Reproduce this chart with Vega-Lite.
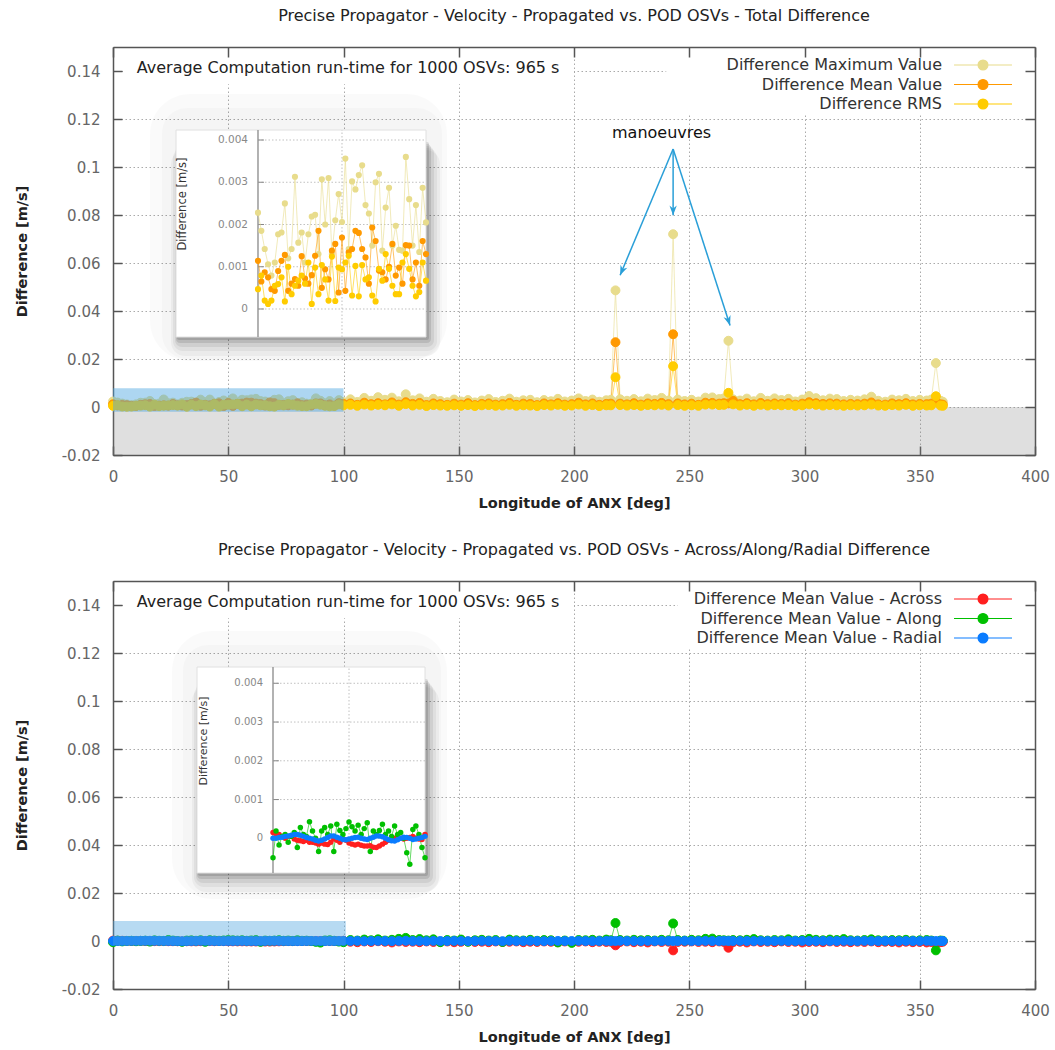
{
"$schema": "https://vega.github.io/schema/vega-lite/v6.json",
"padding": {"left": 14, "top": 8, "right": 5, "bottom": 5},
"config": {
  "font": "DejaVu Sans",
  "view": {"stroke": null},
  "title": {"fontSize": 16, "fontWeight": "normal", "color": "#222", "offset": 22, "anchor": "middle"},
  "axis": {"labelFont": "DejaVu Sans", "titleFont": "DejaVu Sans"},
  "legend": {"labelFont": "DejaVu Sans"}
},
"datasets": {
"top": [
{"x":0,"max":0.00228,"mean":0.00114,"rms":0.00047},
{"x":2,"max":0.00185,"mean":0.00065,"rms":0.00079},
{"x":4,"max":0.00142,"mean":0.00087,"rms":0.0002},
{"x":6,"max":0.00106,"mean":0.00075,"rms":0.00012},
{"x":8,"max":0.00079,"mean":0.00047,"rms":0.0002},
{"x":10,"max":0.0011,"mean":0.00043,"rms":0.00055},
{"x":12,"max":0.00177,"mean":0.0009,"rms":0.00059},
{"x":14,"max":0.00181,"mean":0.00114,"rms":0.00075},
{"x":16,"max":0.0025,"mean":0.00128,"rms":0.00018},
{"x":18,"max":0.0012,"mean":0.00043,"rms":0.001},
{"x":20,"max":0.00142,"mean":0.0006,"rms":0.00035},
{"x":22,"max":0.00313,"mean":0.00071,"rms":0.00055},
{"x":24,"max":0.00157,"mean":0.00055,"rms":0.00067},
{"x":26,"max":0.00181,"mean":0.00125,"rms":0.00079},
{"x":28,"max":0.0011,"mean":0.00072,"rms":0.0006},
{"x":30,"max":0.00177,"mean":0.0006,"rms":0.0011},
{"x":32,"max":0.00219,"mean":0.0008,"rms":0.00012},
{"x":34,"max":0.00223,"mean":0.00126,"rms":0.00098},
{"x":36,"max":0.0013,"mean":0.00185,"rms":0.00035},
{"x":38,"max":0.00307,"mean":0.0005,"rms":0.00104},
{"x":40,"max":0.002,"mean":0.00094,"rms":0.0007},
{"x":42,"max":0.0031,"mean":0.0007,"rms":0.0002},
{"x":44,"max":0.0013,"mean":0.00138,"rms":0.00124},
{"x":46,"max":0.0021,"mean":0.00154,"rms":0.00019},
{"x":48,"max":0.00272,"mean":0.00039,"rms":0.00098},
{"x":50,"max":0.00206,"mean":0.00169,"rms":0.00094},
{"x":52,"max":0.00356,"mean":0.00043,"rms":0.0011},
{"x":54,"max":0.00142,"mean":0.00134,"rms":0.00126},
{"x":56,"max":0.00302,"mean":0.00142,"rms":0.00032},
{"x":58,"max":0.00283,"mean":0.00185,"rms":0.00102},
{"x":60,"max":0.00317,"mean":0.0018,"rms":0.0003},
{"x":62,"max":0.0034,"mean":0.00142,"rms":0.00104},
{"x":64,"max":0.00246,"mean":0.00122,"rms":0.0007},
{"x":66,"max":0.00226,"mean":0.0006,"rms":0.00075},
{"x":68,"max":0.0015,"mean":0.00193,"rms":0.00032},
{"x":70,"max":0.003,"mean":0.00161,"rms":0.00018},
{"x":72,"max":0.0032,"mean":0.00091,"rms":0.00095},
{"x":74,"max":0.00138,"mean":0.00087,"rms":0.00067},
{"x":76,"max":0.0024,"mean":0.0007,"rms":0.0013},
{"x":78,"max":0.00287,"mean":0.001,"rms":0.00095},
{"x":80,"max":0.0015,"mean":0.00154,"rms":0.00055},
{"x":82,"max":0.00197,"mean":0.00079,"rms":0.00035},
{"x":84,"max":0.0014,"mean":0.00098,"rms":0.00035},
{"x":86,"max":0.00138,"mean":0.0006,"rms":0.0011},
{"x":88,"max":0.0036,"mean":0.00151,"rms":0.0013},
{"x":90,"max":0.0026,"mean":0.0015,"rms":0.00095},
{"x":92,"max":0.0015,"mean":0.0007,"rms":0.00055},
{"x":94,"max":0.00246,"mean":0.0011,"rms":0.0003},
{"x":96,"max":0.00135,"mean":0.00055,"rms":0.0004},
{"x":98,"max":0.00287,"mean":0.00161,"rms":0.0011},
{"x":100,"max":0.00205,"mean":0.0013,"rms":0.00067},
{"x":103,"max":0.0032,"mean":0.0015,"rms":0.0009},
{"x":106,"max":0.0021,"mean":0.0009,"rms":0.0005},
{"x":109,"max":0.0038,"mean":0.0018,"rms":0.001},
{"x":112,"max":0.0026,"mean":0.0012,"rms":0.0006},
{"x":115,"max":0.0041,"mean":0.0016,"rms":0.0009},
{"x":118,"max":0.003,"mean":0.0011,"rms":0.0007},
{"x":121,"max":0.0039,"mean":0.0019,"rms":0.0011},
{"x":124,"max":0.0024,"mean":0.001,"rms":0.0005},
{"x":127,"max":0.0053,"mean":0.002,"rms":0.0012},
{"x":130,"max":0.0028,"mean":0.0013,"rms":0.0006},
{"x":133,"max":0.0036,"mean":0.0017,"rms":0.0009},
{"x":136,"max":0.0022,"mean":0.0008,"rms":0.0004},
{"x":139,"max":0.0034,"mean":0.0015,"rms":0.0008},
{"x":142,"max":0.0025,"mean":0.0012,"rms":0.0006},
{"x":145,"max":0.002,"mean":0.0009,"rms":0.0005},
{"x":148,"max":0.0031,"mean":0.0014,"rms":0.0007},
{"x":151,"max":0.0023,"mean":0.001,"rms":0.0005},
{"x":154,"max":0.0029,"mean":0.0016,"rms":0.0008},
{"x":157,"max":0.0019,"mean":0.0008,"rms":0.0004},
{"x":160,"max":0.0027,"mean":0.0013,"rms":0.0007},
{"x":163,"max":0.0033,"mean":0.0015,"rms":0.0008},
{"x":166,"max":0.0021,"mean":0.001,"rms":0.0005},
{"x":169,"max":0.0026,"mean":0.0012,"rms":0.0006},
{"x":172,"max":0.0035,"mean":0.0017,"rms":0.0009},
{"x":175,"max":0.0022,"mean":0.0009,"rms":0.0005},
{"x":178,"max":0.0028,"mean":0.0014,"rms":0.0007},
{"x":181,"max":0.003,"mean":0.0013,"rms":0.0006},
{"x":184,"max":0.002,"mean":0.0008,"rms":0.0004},
{"x":187,"max":0.0029,"mean":0.0015,"rms":0.0008},
{"x":190,"max":0.0024,"mean":0.0011,"rms":0.0006},
{"x":193,"max":0.0034,"mean":0.0016,"rms":0.0009},
{"x":196,"max":0.0023,"mean":0.001,"rms":0.0005},
{"x":199,"max":0.0027,"mean":0.0012,"rms":0.0006},
{"x":202,"max":0.0036,"mean":0.0018,"rms":0.001},
{"x":205,"max":0.0025,"mean":0.0011,"rms":0.0005},
{"x":208,"max":0.0031,"mean":0.0015,"rms":0.0008},
{"x":211,"max":0.0022,"mean":0.0009,"rms":0.0004},
{"x":214,"max":0.0028,"mean":0.0013,"rms":0.0007},
{"x":216,"max":0.003,"mean":0.0014,"rms":0.0007},
{"x":218,"max":0.0486,"mean":0.027,"rms":0.0124},
{"x":220,"max":0.0032,"mean":0.0014,"rms":0.0008},
{"x":223,"max":0.0026,"mean":0.0011,"rms":0.0006},
{"x":226,"max":0.0033,"mean":0.0016,"rms":0.0008},
{"x":229,"max":0.0024,"mean":0.001,"rms":0.0005},
{"x":232,"max":0.0035,"mean":0.0015,"rms":0.0008},
{"x":235,"max":0.0029,"mean":0.0013,"rms":0.0007},
{"x":238,"max":0.0038,"mean":0.0017,"rms":0.0009},
{"x":241,"max":0.0027,"mean":0.0012,"rms":0.0006},
{"x":243,"max":0.072,"mean":0.0303,"rms":0.017},
{"x":245,"max":0.0031,"mean":0.0015,"rms":0.0008},
{"x":248,"max":0.0025,"mean":0.0011,"rms":0.0005},
{"x":251,"max":0.003,"mean":0.0014,"rms":0.0007},
{"x":254,"max":0.0023,"mean":0.0009,"rms":0.0005},
{"x":257,"max":0.0039,"mean":0.0018,"rms":0.001},
{"x":260,"max":0.004,"mean":0.0017,"rms":0.001},
{"x":263,"max":0.0033,"mean":0.0014,"rms":0.0008},
{"x":265,"max":0.0036,"mean":0.0016,"rms":0.0009},
{"x":267,"max":0.0276,"mean":0.0015,"rms":0.0059},
{"x":269,"max":0.0032,"mean":0.0026,"rms":0.0011},
{"x":272,"max":0.0027,"mean":0.0012,"rms":0.0006},
{"x":275,"max":0.0035,"mean":0.0016,"rms":0.0009},
{"x":278,"max":0.0024,"mean":0.0011,"rms":0.0005},
{"x":281,"max":0.0038,"mean":0.0017,"rms":0.0009},
{"x":284,"max":0.0026,"mean":0.0012,"rms":0.0006},
{"x":287,"max":0.0036,"mean":0.0015,"rms":0.0008},
{"x":290,"max":0.0029,"mean":0.0013,"rms":0.0007},
{"x":293,"max":0.0034,"mean":0.0016,"rms":0.0008},
{"x":296,"max":0.0023,"mean":0.001,"rms":0.0005},
{"x":299,"max":0.0031,"mean":0.0014,"rms":0.0007},
{"x":302,"max":0.0046,"mean":0.002,"rms":0.0011},
{"x":305,"max":0.0037,"mean":0.0016,"rms":0.0009},
{"x":308,"max":0.0028,"mean":0.0013,"rms":0.0006},
{"x":311,"max":0.0035,"mean":0.0015,"rms":0.0008},
{"x":314,"max":0.0033,"mean":0.0014,"rms":0.0007},
{"x":317,"max":0.0025,"mean":0.0011,"rms":0.0005},
{"x":320,"max":0.003,"mean":0.0013,"rms":0.0007},
{"x":323,"max":0.0027,"mean":0.0012,"rms":0.0006},
{"x":326,"max":0.0032,"mean":0.0014,"rms":0.0007},
{"x":329,"max":0.0043,"mean":0.0019,"rms":0.001},
{"x":332,"max":0.0026,"mean":0.0011,"rms":0.0006},
{"x":335,"max":0.0022,"mean":0.001,"rms":0.0005},
{"x":338,"max":0.0031,"mean":0.0015,"rms":0.0008},
{"x":341,"max":0.0028,"mean":0.0012,"rms":0.0006},
{"x":344,"max":0.0034,"mean":0.0016,"rms":0.0009},
{"x":347,"max":0.0025,"mean":0.0011,"rms":0.0005},
{"x":350,"max":0.003,"mean":0.0013,"rms":0.0007},
{"x":353,"max":0.0027,"mean":0.0012,"rms":0.0006},
{"x":355,"max":0.0031,"mean":0.0014,"rms":0.0007},
{"x":357,"max":0.0183,"mean":0.0024,"rms":0.0045},
{"x":359,"max":0.0026,"mean":0.0011,"rms":0.0006},
{"x":360,"max":0.0022,"mean":0.001,"rms":0.0005}
],
"bot": [
{"x":0,"across":0.00015,"along":-0.0005,"radial":0},
{"x":2,"across":0.00012,"along":0.00019,"radial":0},
{"x":4,"across":0.0001,"along":-0.00017,"radial":0.00002},
{"x":6,"across":0.00005,"along":0.00005,"radial":0.00003},
{"x":8,"across":0,"along":0.0001,"radial":0.00005},
{"x":10,"across":0.00005,"along":-0.0001,"radial":0.00006},
{"x":12,"across":0.00005,"along":0.00005,"radial":0.00008},
{"x":14,"across":-0.00002,"along":0.00015,"radial":0.0001},
{"x":16,"across":-0.00005,"along":-0.00024,"radial":0.0001},
{"x":18,"across":-0.00006,"along":0.00028,"radial":0.00008},
{"x":20,"across":-0.00008,"along":0.0001,"radial":0.00005},
{"x":22,"across":-0.00005,"along":0.00005,"radial":0.00002},
{"x":24,"across":-0.0001,"along":0.00043,"radial":0},
{"x":26,"across":-0.0001,"along":0.00019,"radial":-0.00002},
{"x":28,"across":-0.00012,"along":0,"radial":-0.00005},
{"x":30,"across":-0.00015,"along":-0.00034,"radial":-0.00007},
{"x":32,"across":-0.00012,"along":0.00019,"radial":-0.00005},
{"x":34,"across":-0.00015,"along":0.00028,"radial":-0.00002},
{"x":36,"across":-0.00016,"along":0.0001,"radial":0.00002},
{"x":38,"across":-0.0001,"along":0.00032,"radial":0.00006},
{"x":40,"across":-0.00002,"along":-0.00034,"radial":0.00006},
{"x":42,"across":-0.00005,"along":0.00036,"radial":0.00003},
{"x":44,"across":-0.0001,"along":0.0002,"radial":0},
{"x":46,"across":-0.00002,"along":0.0001,"radial":-0.00003},
{"x":48,"across":-0.00005,"along":0.00025,"radial":-0.00004},
{"x":50,"across":-0.00012,"along":0.00042,"radial":-0.00002},
{"x":52,"across":-0.00015,"along":0.0003,"radial":0},
{"x":54,"across":-0.00017,"along":0.00019,"radial":0.00002},
{"x":56,"across":-0.00015,"along":0.00034,"radial":0.00003},
{"x":58,"across":-0.00018,"along":0.0001,"radial":0},
{"x":60,"across":-0.0002,"along":0.00025,"radial":-0.00002},
{"x":62,"across":-0.0002,"along":0.0004,"radial":-0.00003},
{"x":64,"across":-0.00019,"along":-0.00034,"radial":0},
{"x":66,"across":-0.00023,"along":0.00019,"radial":0.00003},
{"x":68,"across":-0.00024,"along":0.0001,"radial":0.00006},
{"x":70,"across":-0.0002,"along":0.0002,"radial":0.00006},
{"x":72,"across":-0.00015,"along":0.00036,"radial":0.00004},
{"x":74,"across":-0.0001,"along":0.0001,"radial":0},
{"x":76,"across":-0.00005,"along":0.00019,"radial":-0.00004},
{"x":78,"across":-0.00005,"along":0.00005,"radial":-0.00006},
{"x":80,"across":0,"along":0.00032,"radial":-0.00007},
{"x":82,"across":0.00002,"along":0.0001,"radial":-0.00004},
{"x":84,"across":0,"along":0.00015,"radial":0},
{"x":86,"across":-0.00002,"along":0,"radial":0.00003},
{"x":88,"across":0,"along":-0.00037,"radial":0.00002},
{"x":90,"across":0.00002,"along":-0.00067,"radial":0},
{"x":92,"across":0.00005,"along":0.00023,"radial":-0.00003},
{"x":94,"across":0,"along":0.00032,"radial":-0.00002},
{"x":96,"across":-0.00002,"along":0.0001,"radial":0},
{"x":98,"across":-0.00003,"along":-0.00024,"radial":0.00002},
{"x":100,"across":0.0001,"along":-0.0005,"radial":0.00005},
{"x":103,"across":-0.0003,"along":0.0004,"radial":0},
{"x":106,"across":-0.0005,"along":0.0002,"radial":0.00005},
{"x":109,"across":-0.0002,"along":0.0006,"radial":-0.00005},
{"x":112,"across":-0.0004,"along":0.0003,"radial":0},
{"x":115,"across":-0.0001,"along":0.0007,"radial":0.00005},
{"x":118,"across":-0.0003,"along":0.0002,"radial":0},
{"x":121,"across":-0.0006,"along":0.0005,"radial":-0.00005},
{"x":124,"across":-0.0002,"along":0.0009,"radial":0.00005},
{"x":127,"across":-0.0004,"along":0.0013,"radial":0.0001},
{"x":130,"across":-0.0003,"along":0.0004,"radial":0},
{"x":133,"across":-0.0005,"along":0.0008,"radial":0},
{"x":136,"across":-0.0002,"along":0.0003,"radial":-0.00005},
{"x":139,"across":-0.0004,"along":0.0007,"radial":0.00005},
{"x":142,"across":-0.0003,"along":-0.0005,"radial":0},
{"x":145,"across":-0.0002,"along":0.0004,"radial":0},
{"x":148,"across":-0.0005,"along":0.0002,"radial":0.00005},
{"x":151,"across":-0.0003,"along":0.0006,"radial":0},
{"x":154,"across":-0.0002,"along":-0.0003,"radial":-0.00005},
{"x":157,"across":-0.0004,"along":0.0003,"radial":0},
{"x":160,"across":-0.0003,"along":0.0005,"radial":0.00005},
{"x":163,"across":-0.0005,"along":0.0002,"radial":0},
{"x":166,"across":-0.0002,"along":0.0004,"radial":0},
{"x":169,"across":-0.0004,"along":-0.0004,"radial":-0.00005},
{"x":172,"across":-0.0003,"along":0.0006,"radial":0.00005},
{"x":175,"across":-0.0002,"along":0.0003,"radial":0},
{"x":178,"across":-0.0005,"along":0.0002,"radial":0},
{"x":181,"across":-0.0003,"along":0.0005,"radial":0.00005},
{"x":184,"across":-0.0004,"along":0.0001,"radial":0},
{"x":187,"across":-0.0002,"along":0.0004,"radial":-0.00005},
{"x":190,"across":-0.0003,"along":0.0003,"radial":0},
{"x":193,"across":-0.0005,"along":-0.0006,"radial":0.00005},
{"x":196,"across":-0.0002,"along":0.0002,"radial":0},
{"x":199,"across":-0.0004,"along":-0.0008,"radial":0},
{"x":202,"across":-0.0003,"along":0.0004,"radial":0.00005},
{"x":205,"across":-0.0002,"along":0.0003,"radial":0},
{"x":208,"across":-0.0005,"along":0.0005,"radial":-0.00005},
{"x":211,"across":-0.0003,"along":0.0002,"radial":0},
{"x":214,"across":-0.0004,"along":0.0006,"radial":0.00005},
{"x":216,"across":-0.0003,"along":0.0003,"radial":0},
{"x":218,"across":-0.0018,"along":0.0075,"radial":0},
{"x":220,"across":-0.0004,"along":0.0004,"radial":0.00005},
{"x":223,"across":-0.0002,"along":0.0002,"radial":0},
{"x":226,"across":-0.0005,"along":0.0005,"radial":0},
{"x":229,"across":-0.0003,"along":0.0003,"radial":-0.00005},
{"x":232,"across":-0.0006,"along":0.0004,"radial":0.00005},
{"x":235,"across":-0.0002,"along":0.0002,"radial":0},
{"x":238,"across":-0.0004,"along":0.0005,"radial":0},
{"x":241,"across":-0.0003,"along":0.0003,"radial":0.00005},
{"x":243,"across":-0.0039,"along":0.0073,"radial":0},
{"x":245,"across":-0.0004,"along":0.0004,"radial":0},
{"x":248,"across":-0.0003,"along":0.0002,"radial":0.00005},
{"x":251,"across":-0.0002,"along":0.0005,"radial":0},
{"x":254,"across":-0.0004,"along":0.0003,"radial":0},
{"x":257,"across":-0.0003,"along":0.0009,"radial":0.00005},
{"x":260,"across":-0.0005,"along":0.001,"radial":0},
{"x":263,"across":-0.0002,"along":0.0004,"radial":0},
{"x":265,"across":-0.0004,"along":0.0003,"radial":0.00005},
{"x":267,"across":-0.0028,"along":0.0002,"radial":0},
{"x":269,"across":-0.0005,"along":0.0004,"radial":0},
{"x":272,"across":-0.0003,"along":0.0003,"radial":0.00005},
{"x":275,"across":-0.0006,"along":0.0005,"radial":0},
{"x":278,"across":-0.0002,"along":0.0008,"radial":0},
{"x":281,"across":-0.0004,"along":0.0003,"radial":0.00005},
{"x":284,"across":-0.0003,"along":0.0002,"radial":0},
{"x":287,"across":-0.0005,"along":0.0004,"radial":0},
{"x":290,"across":-0.0002,"along":0.0003,"radial":0.00005},
{"x":293,"across":-0.0004,"along":0.0007,"radial":0},
{"x":296,"across":-0.0003,"along":0.0002,"radial":0},
{"x":299,"across":-0.0006,"along":0.0004,"radial":0.00005},
{"x":302,"across":-0.0004,"along":0.0009,"radial":0},
{"x":305,"across":-0.0003,"along":0.0005,"radial":0},
{"x":308,"across":-0.0005,"along":0.0003,"radial":0.00005},
{"x":311,"across":-0.0002,"along":0.0006,"radial":0},
{"x":314,"across":-0.0004,"along":0.0004,"radial":0},
{"x":317,"across":-0.0003,"along":0.0008,"radial":0.00005},
{"x":320,"across":-0.0005,"along":0.0003,"radial":0},
{"x":323,"across":-0.0003,"along":0.0002,"radial":0},
{"x":326,"across":-0.0004,"along":0.0004,"radial":0.00005},
{"x":329,"across":-0.0002,"along":0.0007,"radial":0},
{"x":332,"across":-0.0005,"along":0.0003,"radial":0},
{"x":335,"across":-0.0003,"along":0.0002,"radial":0.00005},
{"x":338,"across":-0.0004,"along":0.0004,"radial":0},
{"x":341,"across":-0.0006,"along":0.0003,"radial":0},
{"x":344,"across":-0.0003,"along":0.0005,"radial":0.00005},
{"x":347,"across":-0.0005,"along":0.0002,"radial":0},
{"x":350,"across":-0.0004,"along":0.0003,"radial":0},
{"x":353,"across":-0.0006,"along":0.0004,"radial":0.00005},
{"x":355,"across":-0.0004,"along":0.0002,"radial":0},
{"x":357,"across":-0.001,"along":-0.0039,"radial":0},
{"x":359,"across":-0.0005,"along":0.0002,"radial":0},
{"x":360,"across":-0.0003,"along":0.0001,"radial":0}
]
},
"vconcat": [
{
  "width": 922, "height": 408,
  "title": {"text": "Precise Propagator - Velocity - Propagated vs. POD OSVs - Total Difference"},
  "layer": [
    {
      "layer": [
        {"data": {"values": [{}]}, "mark": {"type": "rect", "color": "#808080", "opacity": 0.25},
         "encoding": {"x": {"datum": 0, "type": "quantitative", "axis": null}, "x2": {"datum": 400}, "y": {"datum": -0.02, "type": "quantitative", "axis": null}, "y2": {"datum": 0}}},
        {"data": {"name": "top"}, "transform": [{"fold": ["max", "mean", "rms"], "as": ["k", "v"]}],
         "mark": {"type": "line", "strokeWidth": 1, "strokeOpacity": 0.6},
         "encoding": {
           "x": {"field": "x", "type": "quantitative", "scale": {"domain": [0, 400], "nice": false, "zero": false},
                 "axis": {"orient": "bottom", "values": [0, 50, 100, 150, 200, 250, 300, 350, 400], "title": "Longitude of ANX [deg]", "titleFontSize": 14.5, "titleFontWeight": "bold", "titleColor": "#222", "titlePadding": 12, "labelFontSize": 15, "labelColor": "#666", "labelPadding": 23, "labelFlush": false, "labelOverlap": false, "tickSize": -9, "tickColor": "#555", "tickWidth": 1.5, "domainColor": "#555", "domainWidth": 1.5, "grid": true, "gridColor": "#aaaaaa", "gridDash": [1.5, 2.5], "gridWidth": 1, "zindex": 0}},
           "y": {"field": "v", "type": "quantitative", "scale": {"domain": [-0.02, 0.15], "nice": false, "zero": false},
                 "axis": {"orient": "left", "values": [-0.02, 0, 0.02, 0.04, 0.06, 0.08, 0.1, 0.12, 0.14], "labelExpr": "'' + datum.value", "title": "Difference [m/s]", "titleFontSize": 14.5, "titleFontWeight": "bold", "titleColor": "#222", "titlePadding": 32, "labelFontSize": 15, "labelColor": "#666", "labelPadding": 22, "tickSize": -9, "tickColor": "#555", "tickWidth": 1.5, "domainColor": "#555", "domainWidth": 1.5, "grid": true, "gridColor": "#aaaaaa", "gridDash": [1.5, 2.5], "gridWidth": 1, "zindex": 0}},
           "stroke": {"field": "k", "type": "nominal", "scale": {"domain": ["max", "mean", "rms"], "range": ["#e8dc8c", "#ff9900", "#ffcc00"]}}
         }},
        {"data": {"name": "top"}, "transform": [{"fold": ["max", "mean", "rms"], "as": ["k", "v"]}],
         "mark": {"type": "point", "filled": true, "size": 80, "opacity": 1, "strokeWidth": 1},
         "encoding": {
           "x": {"field": "x", "type": "quantitative", "axis": null},
           "y": {"field": "v", "type": "quantitative", "axis": null},
           "fill": {"field": "k", "type": "nominal", "scale": {"domain": ["max", "mean", "rms"], "range": ["#e8dc8c", "#ff9900", "#ffcc00"]},
                    "legend": {"orient": "none", "legendX": 862, "legendY": 10, "title": null, "symbolType": "M-4.83,0H4.83M0.82,0A0.82,0.82,0,1,1,-0.82,0A0.82,0.82,0,1,1,0.82,0Z", "symbolSize": 144, "symbolStrokeWidth": 1.2, "symbolOpacity": 1, "labelAlign": "right", "labelOffset": -49, "labelFontSize": 16, "labelColor": "#333", "rowPadding": 3.5, "labelLimit": 400, "labelExpr": "datum.label == 'max' ? 'Difference Maximum Value' : datum.label == 'mean' ? 'Difference Mean Value' : 'Difference RMS'"}},
           "stroke": {"field": "k", "type": "nominal",
                    "legend": {"orient": "none", "legendX": 862, "legendY": 10, "title": null, "symbolType": "M-4.83,0H4.83M0.82,0A0.82,0.82,0,1,1,-0.82,0A0.82,0.82,0,1,1,0.82,0Z", "symbolSize": 144, "symbolStrokeWidth": 1.2, "symbolOpacity": 1, "labelAlign": "right", "labelOffset": -49, "labelFontSize": 16, "labelColor": "#333", "rowPadding": 3.5, "labelLimit": 400, "labelExpr": "datum.label == 'max' ? 'Difference Maximum Value' : datum.label == 'mean' ? 'Difference Mean Value' : 'Difference RMS'"}},
           "order": {"field": "k", "type": "ordinal"}
         }},
        {"data": {"values": [{}]}, "mark": {"type": "rect", "color": "#4aa3df", "opacity": 0.45},
         "encoding": {"x": {"datum": 0, "type": "quantitative", "axis": null}, "x2": {"datum": 100}, "y": {"datum": -0.002, "type": "quantitative", "axis": null}, "y2": {"datum": 0.0078}}},
        {"data": {"values": [{}]}, "mark": {"type": "rect", "color": "#ffffff"},
         "encoding": {"x": {"datum": 4.5, "type": "quantitative", "axis": null}, "x2": {"datum": 200}, "y": {"datum": 0.1345, "type": "quantitative", "axis": null}, "y2": {"datum": 0.15}}},
        {"data": {"values": [{}]}, "mark": {"type": "rect", "color": "#ffffff"},
         "encoding": {"x": {"datum": 240, "type": "quantitative", "axis": null}, "x2": {"datum": 400}, "y": {"datum": 0.1225, "type": "quantitative", "axis": null}, "y2": {"datum": 0.15}}},
        {"data": {"values": [{}]}, "mark": {"type": "text", "text": "Average Computation run-time for 1000 OSVs: 965 s", "align": "left", "baseline": "middle", "fontSize": 16, "color": "#222"},
         "encoding": {"x": {"datum": 10.3, "type": "quantitative", "axis": null}, "y": {"datum": 0.1411, "type": "quantitative", "axis": null}}},
        {"data": {"values": [{}]}, "mark": {"type": "text", "text": "manoeuvres", "align": "center", "baseline": "middle", "fontSize": 16, "color": "#111"},
         "encoding": {"x": {"datum": 238, "type": "quantitative", "axis": null}, "y": {"datum": 0.114, "type": "quantitative", "axis": null}}},
        {"data": {"values": [{"x1": 243, "y1": 0.1075, "x2": 220, "y2": 0.0549}, {"x1": 243, "y1": 0.1075, "x2": 243, "y2": 0.0799}, {"x1": 243, "y1": 0.1075, "x2": 267.7, "y2": 0.034}]},
         "mark": {"type": "rule", "color": "#2a9fd8", "strokeWidth": 1.5},
         "encoding": {
           "x": {"field": "x1", "type": "quantitative", "axis": {"orient": "top", "values": [0, 50, 100, 150, 200, 250, 300, 350, 400], "labels": false, "title": null, "tickSize": -10, "tickColor": "#555", "tickWidth": 1.5, "domainColor": "#555", "domainWidth": 1.5, "grid": false, "zindex": 1}},
           "y": {"field": "y1", "type": "quantitative", "axis": {"orient": "right", "values": [-0.02, 0, 0.02, 0.04, 0.06, 0.08, 0.1, 0.12, 0.14], "labels": false, "title": null, "tickSize": -10, "tickColor": "#555", "tickWidth": 1.5, "domainColor": "#555", "domainWidth": 1.5, "grid": false, "zindex": 1}},
           "x2": {"field": "x2"}, "y2": {"field": "y2"}
         }},
        {"data": {"values": [{}]}, "mark": {"type": "point", "shape": "M0,0L-0.6,-1.6L0,-1.1L0.6,-1.6Z", "filled": true, "color": "#2a9fd8", "opacity": 1, "size": 150, "angle": 23},
         "encoding": {"x": {"datum": 220, "type": "quantitative", "axis": null}, "y": {"datum": 0.0549, "type": "quantitative", "axis": null}}},
        {"data": {"values": [{}]}, "mark": {"type": "point", "shape": "M0,0L-0.6,-1.6L0,-1.1L0.6,-1.6Z", "filled": true, "color": "#2a9fd8", "opacity": 1, "size": 150, "angle": 0},
         "encoding": {"x": {"datum": 243, "type": "quantitative", "axis": null}, "y": {"datum": 0.0799, "type": "quantitative", "axis": null}}},
        {"data": {"values": [{}]}, "mark": {"type": "point", "shape": "M0,0L-0.6,-1.6L0,-1.1L0.6,-1.6Z", "filled": true, "color": "#2a9fd8", "opacity": 1, "size": 150, "angle": -18},
         "encoding": {"x": {"datum": 267.7, "type": "quantitative", "axis": null}, "y": {"datum": 0.034, "type": "quantitative", "axis": null}}}
      ],
      "resolve": {"axis": {"x": "independent", "y": "independent"}}
    },
    {
      "layer": [
        {"data": {"values": [{}]}, "mark": {"type": "rect", "color": "#000", "opacity": 0.018, "cornerRadius": 40, "xOffset": -26, "x2Offset": 21, "yOffset": 24, "y2Offset": -36},
         "encoding": {"x": {"datum": -48.8, "type": "quantitative", "scale": {"domain": [-48.8, 100], "range": [63, 313], "nice": false, "zero": false}, "axis": null}, "x2": {"datum": 100},
                      "y": {"datum": -0.000663, "type": "quantitative", "scale": {"domain": [-0.000663, 0.004237], "range": [290, 83], "nice": false, "zero": false}, "axis": null}, "y2": {"datum": 0.004237}}},
        {"data": {"values": [{}]}, "mark": {"type": "rect", "color": "#000", "opacity": 0.018, "cornerRadius": 25, "xOffset": -14, "x2Offset": 16, "yOffset": 22, "y2Offset": -22},
         "encoding": {"x": {"datum": -48.8, "type": "quantitative", "axis": null}, "x2": {"datum": 100}, "y": {"datum": -0.000663, "type": "quantitative", "axis": null}, "y2": {"datum": 0.004237}}},
        {"data": {"values": [{}]}, "mark": {"type": "rect", "color": "#000", "opacity": 0.04, "cornerRadius": 14, "xOffset": -5, "x2Offset": 14, "yOffset": 19, "y2Offset": 20},
         "encoding": {"x": {"datum": -48.8, "type": "quantitative", "axis": null}, "x2": {"datum": 100}, "y": {"datum": -0.000663, "type": "quantitative", "axis": null}, "y2": {"datum": 0.004237}}},
        {"data": {"values": [{}]}, "mark": {"type": "rect", "color": "#000", "opacity": 0.05, "cornerRadius": 10, "xOffset": -3, "x2Offset": 11, "yOffset": 14, "y2Offset": 18},
         "encoding": {"x": {"datum": -48.8, "type": "quantitative", "axis": null}, "x2": {"datum": 100}, "y": {"datum": -0.000663, "type": "quantitative", "axis": null}, "y2": {"datum": 0.004237}}},
        {"data": {"values": [{}]}, "mark": {"type": "rect", "color": "#000", "opacity": 0.07, "cornerRadius": 7, "xOffset": -1, "x2Offset": 8, "yOffset": 10, "y2Offset": 16},
         "encoding": {"x": {"datum": -48.8, "type": "quantitative", "axis": null}, "x2": {"datum": 100}, "y": {"datum": -0.000663, "type": "quantitative", "axis": null}, "y2": {"datum": 0.004237}}},
        {"data": {"values": [{}]}, "mark": {"type": "rect", "color": "#000", "opacity": 0.1, "cornerRadius": 4, "xOffset": 0, "x2Offset": 5, "yOffset": 6, "y2Offset": 14},
         "encoding": {"x": {"datum": -48.8, "type": "quantitative", "axis": null}, "x2": {"datum": 100}, "y": {"datum": -0.000663, "type": "quantitative", "axis": null}, "y2": {"datum": 0.004237}}},
        {"data": {"values": [{}]}, "mark": {"type": "rect", "color": "#000", "opacity": 0.12, "cornerRadius": 2, "xOffset": 1, "x2Offset": 3, "yOffset": 3, "y2Offset": 12},
         "encoding": {"x": {"datum": -48.8, "type": "quantitative", "axis": null}, "x2": {"datum": 100}, "y": {"datum": -0.000663, "type": "quantitative", "axis": null}, "y2": {"datum": 0.004237}}},
        {"data": {"values": [{}]}, "mark": {"type": "rect", "color": "#ffffff", "stroke": "#e0e0e0", "strokeWidth": 1},
         "encoding": {"x": {"datum": -48.8, "type": "quantitative", "axis": null}, "x2": {"datum": 100}, "y": {"datum": -0.000663, "type": "quantitative", "axis": null}, "y2": {"datum": 0.004237}}},
        {"data": {"values": [{"g": 0}, {"g": 0.001}, {"g": 0.002}, {"g": 0.003}, {"g": 0.004}]},
         "mark": {"type": "rule", "color": "#c0c0c0", "strokeDash": [1.5, 2], "strokeWidth": 1},
         "encoding": {"x": {"datum": 0, "type": "quantitative", "axis": null}, "x2": {"datum": 100}, "y": {"field": "g", "type": "quantitative", "axis": null}}},
        {"data": {"values": [{}]}, "mark": {"type": "rule", "color": "#c0c0c0", "strokeDash": [1.5, 2], "strokeWidth": 1},
         "encoding": {"x": {"datum": 50, "type": "quantitative", "axis": null}, "y": {"datum": -0.000663, "type": "quantitative", "axis": null}, "y2": {"datum": 0.004237}}},
        {"data": {"values": [{"g": 0}, {"g": 0.001}, {"g": 0.002}, {"g": 0.003}, {"g": 0.004}]},
         "mark": {"type": "rule", "color": "#888888", "strokeWidth": 1},
         "encoding": {"x": {"datum": 0, "type": "quantitative", "axis": null}, "x2": {"datum": 3.6}, "y": {"field": "g", "type": "quantitative", "axis": null}}},
        {"data": {"values": [{"g": 0}, {"g": 0.001}, {"g": 0.002}, {"g": 0.003}, {"g": 0.004}]},
         "mark": {"type": "text", "align": "right", "baseline": "middle", "dx": -10, "fontSize": 10.5, "color": "#888888"},
         "encoding": {"x": {"datum": 0, "type": "quantitative", "axis": null}, "y": {"field": "g", "type": "quantitative", "axis": null}, "text": {"field": "g", "type": "quantitative", "format": "~g"}}},
        {"data": {"values": [{}]}, "mark": {"type": "text", "text": "Difference [m/s]", "angle": 270, "align": "center", "baseline": "middle", "fontSize": 11.5, "color": "#333"},
         "encoding": {"x": {"datum": -44.6, "type": "quantitative", "axis": null}, "y": {"datum": 0.002485, "type": "quantitative", "axis": null}}},
        {"data": {"values": [{}]}, "mark": {"type": "rule", "color": "#999999", "strokeWidth": 1.5},
         "encoding": {"x": {"datum": 0, "type": "quantitative", "axis": null}, "y": {"datum": -0.000663, "type": "quantitative", "axis": null}, "y2": {"datum": 0.004237}}},
        {"data": {"name": "top"}, "transform": [{"filter": {"field": "x", "lte": 100}}, {"fold": ["max", "mean", "rms"], "as": ["k", "v"]}],
         "mark": {"type": "line", "strokeWidth": 1, "strokeOpacity": 0.6},
         "encoding": {"x": {"field": "x", "type": "quantitative", "axis": null}, "y": {"field": "v", "type": "quantitative", "axis": null},
                      "stroke": {"field": "k", "type": "nominal"}}},
        {"data": {"name": "top"}, "transform": [{"filter": {"field": "x", "lte": 100}}, {"fold": ["max", "mean", "rms"], "as": ["k", "v"]}],
         "mark": {"type": "point", "filled": true, "size": 38, "opacity": 1},
         "encoding": {"x": {"field": "x", "type": "quantitative", "axis": null},
                      "y": {"field": "v", "type": "quantitative", "axis": null},
                      "fill": {"field": "k", "type": "nominal"},
                      "order": {"field": "k", "type": "ordinal"}}}
      ]
    }
  ],
  "resolve": {"scale": {"x": "independent", "y": "independent"}}
},
{
  "width": 922, "height": 408,
  "title": {"text": "Precise Propagator - Velocity - Propagated vs. POD OSVs - Across/Along/Radial Difference"},
  "layer": [
    {
      "layer": [
        {"data": {"name": "bot"}, "transform": [{"fold": ["across", "along", "radial"], "as": ["k", "v"]}],
         "mark": {"type": "line", "strokeWidth": 1, "strokeOpacity": 0.6},
         "encoding": {
           "x": {"field": "x", "type": "quantitative", "scale": {"domain": [0, 400], "nice": false, "zero": false},
                 "axis": {"orient": "bottom", "values": [0, 50, 100, 150, 200, 250, 300, 350, 400], "title": "Longitude of ANX [deg]", "titleFontSize": 14.5, "titleFontWeight": "bold", "titleColor": "#222", "titlePadding": 12, "labelFontSize": 15, "labelColor": "#666", "labelPadding": 23, "labelFlush": false, "labelOverlap": false, "tickSize": -9, "tickColor": "#555", "tickWidth": 1.5, "domainColor": "#555", "domainWidth": 1.5, "grid": true, "gridColor": "#aaaaaa", "gridDash": [1.5, 2.5], "gridWidth": 1, "zindex": 0}},
           "y": {"field": "v", "type": "quantitative", "scale": {"domain": [-0.02, 0.15], "nice": false, "zero": false},
                 "axis": {"orient": "left", "values": [-0.02, 0, 0.02, 0.04, 0.06, 0.08, 0.1, 0.12, 0.14], "labelExpr": "'' + datum.value", "title": "Difference [m/s]", "titleFontSize": 14.5, "titleFontWeight": "bold", "titleColor": "#222", "titlePadding": 32, "labelFontSize": 15, "labelColor": "#666", "labelPadding": 22, "tickSize": -9, "tickColor": "#555", "tickWidth": 1.5, "domainColor": "#555", "domainWidth": 1.5, "grid": true, "gridColor": "#aaaaaa", "gridDash": [1.5, 2.5], "gridWidth": 1, "zindex": 0}},
           "stroke": {"field": "k", "type": "nominal", "scale": {"domain": ["across", "along", "radial"], "range": ["#ff1f1f", "#00c000", "#0a7cff"]}}
         }},
        {"data": {"name": "bot"}, "transform": [{"fold": ["across", "along", "radial"], "as": ["k", "v"]}],
         "mark": {"type": "point", "filled": true, "size": 80, "opacity": 1, "strokeWidth": 1},
         "encoding": {
           "x": {"field": "x", "type": "quantitative", "axis": null},
           "y": {"field": "v", "type": "quantitative", "axis": null},
           "fill": {"field": "k", "type": "nominal", "scale": {"domain": ["across", "along", "radial"], "range": ["#ff1f1f", "#00c000", "#0a7cff"]},
                    "legend": {"orient": "none", "legendX": 862, "legendY": 10, "title": null, "symbolType": "M-4.83,0H4.83M0.82,0A0.82,0.82,0,1,1,-0.82,0A0.82,0.82,0,1,1,0.82,0Z", "symbolSize": 144, "symbolStrokeWidth": 1.2, "symbolOpacity": 1, "labelAlign": "right", "labelOffset": -49, "labelFontSize": 16, "labelColor": "#333", "rowPadding": 3.5, "labelLimit": 400, "labelExpr": "datum.label == 'across' ? 'Difference Mean Value - Across' : datum.label == 'along' ? 'Difference Mean Value - Along' : 'Difference Mean Value - Radial'"}},
           "stroke": {"field": "k", "type": "nominal",
                    "legend": {"orient": "none", "legendX": 862, "legendY": 10, "title": null, "symbolType": "M-4.83,0H4.83M0.82,0A0.82,0.82,0,1,1,-0.82,0A0.82,0.82,0,1,1,0.82,0Z", "symbolSize": 144, "symbolStrokeWidth": 1.2, "symbolOpacity": 1, "labelAlign": "right", "labelOffset": -49, "labelFontSize": 16, "labelColor": "#333", "rowPadding": 3.5, "labelLimit": 400, "labelExpr": "datum.label == 'across' ? 'Difference Mean Value - Across' : datum.label == 'along' ? 'Difference Mean Value - Along' : 'Difference Mean Value - Radial'"}},
           "order": {"field": "k", "type": "ordinal"}
         }},
        {"data": {"values": [{}]}, "mark": {"type": "rect", "color": "#4aa3df", "opacity": 0.4},
         "encoding": {"x": {"datum": 0, "type": "quantitative", "axis": null}, "x2": {"datum": 101}, "y": {"datum": -0.0018, "type": "quantitative", "axis": null}, "y2": {"datum": 0.0083}}},
        {"data": {"values": [{}]}, "mark": {"type": "rect", "color": "#ffffff"},
         "encoding": {"x": {"datum": 4.5, "type": "quantitative", "axis": null}, "x2": {"datum": 200}, "y": {"datum": 0.1345, "type": "quantitative", "axis": null}, "y2": {"datum": 0.15}}},
        {"data": {"values": [{}]}, "mark": {"type": "rect", "color": "#ffffff"},
         "encoding": {"x": {"datum": 245, "type": "quantitative", "axis": null}, "x2": {"datum": 400}, "y": {"datum": 0.1225, "type": "quantitative", "axis": null}, "y2": {"datum": 0.15}}},
        {"data": {"values": [{}]}, "mark": {"type": "text", "text": "Average Computation run-time for 1000 OSVs: 965 s", "align": "left", "baseline": "middle", "fontSize": 16, "color": "#222"},
         "encoding": {"x": {"datum": 10.3, "type": "quantitative", "axis": {"orient": "top", "values": [0, 50, 100, 150, 200, 250, 300, 350, 400], "labels": false, "title": null, "tickSize": -10, "tickColor": "#555", "tickWidth": 1.5, "domainColor": "#555", "domainWidth": 1.5, "grid": false, "zindex": 1}},
                      "y": {"datum": 0.1411, "type": "quantitative", "axis": {"orient": "right", "values": [-0.02, 0, 0.02, 0.04, 0.06, 0.08, 0.1, 0.12, 0.14], "labels": false, "title": null, "tickSize": -10, "tickColor": "#555", "tickWidth": 1.5, "domainColor": "#555", "domainWidth": 1.5, "grid": false, "zindex": 1}}}}
      ],
      "resolve": {"axis": {"x": "independent", "y": "independent"}}
    },
    {
      "layer": [
        {"data": {"values": [{}]}, "mark": {"type": "rect", "color": "#000", "opacity": 0.018, "cornerRadius": 40, "xOffset": -25, "x2Offset": 22, "yOffset": 26, "y2Offset": -36},
         "encoding": {"x": {"datum": -50, "type": "quantitative", "scale": {"domain": [-50, 100], "range": [84, 312], "nice": false, "zero": false}, "axis": null}, "x2": {"datum": 100},
                      "y": {"datum": -0.000895, "type": "quantitative", "scale": {"domain": [-0.000895, 0.00442], "range": [292, 86], "nice": false, "zero": false}, "axis": null}, "y2": {"datum": 0.00442}}},
        {"data": {"values": [{}]}, "mark": {"type": "rect", "color": "#000", "opacity": 0.018, "cornerRadius": 25, "xOffset": -14, "x2Offset": 16, "yOffset": 22, "y2Offset": -22},
         "encoding": {"x": {"datum": -50, "type": "quantitative", "axis": null}, "x2": {"datum": 100}, "y": {"datum": -0.000895, "type": "quantitative", "axis": null}, "y2": {"datum": 0.00442}}},
        {"data": {"values": [{}]}, "mark": {"type": "rect", "color": "#000", "opacity": 0.04, "cornerRadius": 14, "xOffset": -5, "x2Offset": 14, "yOffset": 19, "y2Offset": 20},
         "encoding": {"x": {"datum": -50, "type": "quantitative", "axis": null}, "x2": {"datum": 100}, "y": {"datum": -0.000895, "type": "quantitative", "axis": null}, "y2": {"datum": 0.00442}}},
        {"data": {"values": [{}]}, "mark": {"type": "rect", "color": "#000", "opacity": 0.05, "cornerRadius": 10, "xOffset": -3, "x2Offset": 11, "yOffset": 14, "y2Offset": 18},
         "encoding": {"x": {"datum": -50, "type": "quantitative", "axis": null}, "x2": {"datum": 100}, "y": {"datum": -0.000895, "type": "quantitative", "axis": null}, "y2": {"datum": 0.00442}}},
        {"data": {"values": [{}]}, "mark": {"type": "rect", "color": "#000", "opacity": 0.07, "cornerRadius": 7, "xOffset": -1, "x2Offset": 8, "yOffset": 10, "y2Offset": 16},
         "encoding": {"x": {"datum": -50, "type": "quantitative", "axis": null}, "x2": {"datum": 100}, "y": {"datum": -0.000895, "type": "quantitative", "axis": null}, "y2": {"datum": 0.00442}}},
        {"data": {"values": [{}]}, "mark": {"type": "rect", "color": "#000", "opacity": 0.1, "cornerRadius": 4, "xOffset": 0, "x2Offset": 5, "yOffset": 6, "y2Offset": 14},
         "encoding": {"x": {"datum": -50, "type": "quantitative", "axis": null}, "x2": {"datum": 100}, "y": {"datum": -0.000895, "type": "quantitative", "axis": null}, "y2": {"datum": 0.00442}}},
        {"data": {"values": [{}]}, "mark": {"type": "rect", "color": "#000", "opacity": 0.12, "cornerRadius": 2, "xOffset": 1, "x2Offset": 3, "yOffset": 3, "y2Offset": 12},
         "encoding": {"x": {"datum": -50, "type": "quantitative", "axis": null}, "x2": {"datum": 100}, "y": {"datum": -0.000895, "type": "quantitative", "axis": null}, "y2": {"datum": 0.00442}}},
        {"data": {"values": [{}]}, "mark": {"type": "rect", "color": "#ffffff", "stroke": "#e0e0e0", "strokeWidth": 1},
         "encoding": {"x": {"datum": -50, "type": "quantitative", "axis": null}, "x2": {"datum": 100}, "y": {"datum": -0.000895, "type": "quantitative", "axis": null}, "y2": {"datum": 0.00442}}},
        {"data": {"values": [{"g": 0}, {"g": 0.001}, {"g": 0.002}, {"g": 0.003}, {"g": 0.004}]},
         "mark": {"type": "rule", "color": "#c0c0c0", "strokeDash": [1.5, 2], "strokeWidth": 1},
         "encoding": {"x": {"datum": 0, "type": "quantitative", "axis": null}, "x2": {"datum": 100}, "y": {"field": "g", "type": "quantitative", "axis": null}}},
        {"data": {"values": [{}]}, "mark": {"type": "rule", "color": "#c0c0c0", "strokeDash": [1.5, 2], "strokeWidth": 1},
         "encoding": {"x": {"datum": 50, "type": "quantitative", "axis": null}, "y": {"datum": -0.000895, "type": "quantitative", "axis": null}, "y2": {"datum": 0.00442}}},
        {"data": {"values": [{"g": 0}, {"g": 0.001}, {"g": 0.002}, {"g": 0.003}, {"g": 0.004}]},
         "mark": {"type": "rule", "color": "#888888", "strokeWidth": 1},
         "encoding": {"x": {"datum": 0, "type": "quantitative", "axis": null}, "x2": {"datum": 3.9}, "y": {"field": "g", "type": "quantitative", "axis": null}}},
        {"data": {"values": [{"g": 0}, {"g": 0.001}, {"g": 0.002}, {"g": 0.003}, {"g": 0.004}]},
         "mark": {"type": "text", "align": "right", "baseline": "middle", "dx": -10, "fontSize": 10, "color": "#888888"},
         "encoding": {"x": {"datum": 0, "type": "quantitative", "axis": null}, "y": {"field": "g", "type": "quantitative", "axis": null}, "text": {"field": "g", "type": "quantitative", "format": "~g"}}},
        {"data": {"values": [{}]}, "mark": {"type": "text", "text": "Difference [m/s]", "angle": 270, "align": "center", "baseline": "middle", "fontSize": 11, "color": "#333"},
         "encoding": {"x": {"datum": -45.4, "type": "quantitative", "axis": null}, "y": {"datum": 0.00251, "type": "quantitative", "axis": null}}},
        {"data": {"values": [{}]}, "mark": {"type": "rule", "color": "#999999", "strokeWidth": 1.5},
         "encoding": {"x": {"datum": 0, "type": "quantitative", "axis": null}, "y": {"datum": -0.000895, "type": "quantitative", "axis": null}, "y2": {"datum": 0.00442}}},
        {"data": {"name": "bot"}, "transform": [{"filter": {"field": "x", "lte": 100}}, {"fold": ["across", "along", "radial"], "as": ["k", "v"]}],
         "mark": {"type": "line", "strokeWidth": 1, "strokeOpacity": 0.6},
         "encoding": {"x": {"field": "x", "type": "quantitative", "axis": null}, "y": {"field": "v", "type": "quantitative", "axis": null},
                      "stroke": {"field": "k", "type": "nominal"}}},
        {"data": {"name": "bot"}, "transform": [{"filter": {"field": "x", "lte": 100}}, {"fold": ["across", "along", "radial"], "as": ["k", "v"]}],
         "mark": {"type": "point", "filled": true, "size": 30, "opacity": 1},
         "encoding": {"x": {"field": "x", "type": "quantitative", "axis": null},
                      "y": {"field": "v", "type": "quantitative", "axis": null},
                      "fill": {"field": "k", "type": "nominal"},
                      "order": {"field": "k", "type": "ordinal"}}}
      ]
    }
  ],
  "resolve": {"scale": {"x": "independent", "y": "independent"}}
}
],
"spacing": 32,
"resolve": {"scale": {"fill": "independent", "stroke": "independent"}}
}
